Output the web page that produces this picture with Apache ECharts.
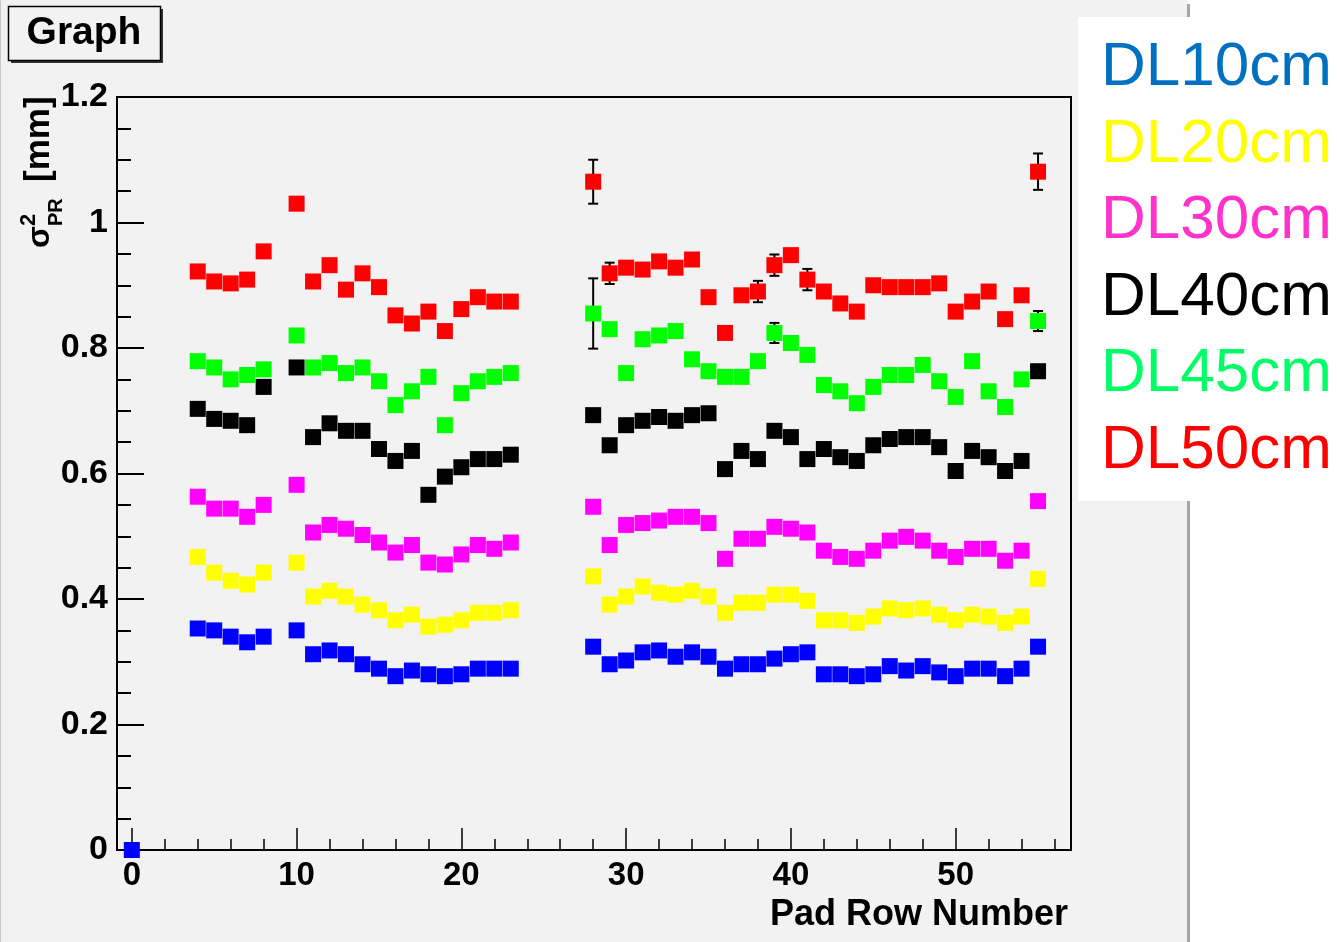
<!DOCTYPE html>
<html>
<head>
<meta charset="utf-8">
<script src="https://cdn.jsdelivr.net/npm/echarts@6/dist/echarts.min.js"></script>
<style>
html,body{margin:0;padding:0;background:#ffffff;}
#chart{width:1337px;height:942px;}
</style>
</head>
<body>
<div id="chart"></div>
<script>
// ---------- data ----------
const padRows = [4,5,6,7,8,10,11,12,13,14,15,16,17,18,19,20,21,22,23,28,
  29,30,31,32,33,34,35,36,37,38,39,40,41,42,43,44,45,46,47,48,49,50,51,52,53,54,55];

const dl10 = [0.353,0.350,0.340,0.331,0.340, 0.350,
  0.312,0.318,0.312,0.296,0.289,0.277,0.286,0.280,0.277,0.280,0.289,0.289,0.289,
  0.324,
  0.296,0.302,0.315,0.318,0.308,0.315,0.308,0.289,0.296,0.296,0.305,0.312,0.315,0.280,0.280,0.277,0.280,0.293,0.286,0.293,0.283,0.277,0.289,0.289,0.277,0.289,0.324];
const dl10Origin = [[0, 0]];

const dl20 = [0.467,0.442,0.429,0.423,0.442, 0.458,
  0.404,0.413,0.404,0.391,0.382,0.366,0.375,0.356,0.359,0.366,0.378,0.378,0.382,
  0.436,
  0.391,0.404,0.420,0.410,0.407,0.413,0.404,0.378,0.394,0.394,0.407,0.407,0.397,0.366,0.366,0.362,0.372,0.385,0.382,0.385,0.375,0.366,0.375,0.372,0.362,0.372,0.432];

const dl30 = [0.563,0.544,0.544,0.531,0.550, 0.582,
  0.506,0.518,0.512,0.502,0.490,0.474,0.486,0.458,0.455,0.471,0.486,0.480,0.490,
  0.547,
  0.486,0.518,0.521,0.525,0.531,0.531,0.521,0.464,0.496,0.496,0.515,0.512,0.506,0.477,0.467,0.464,0.477,0.493,0.499,0.493,0.477,0.467,0.480,0.480,0.461,0.477,0.556];

const dl40 = [0.703,0.687,0.684,0.677,0.738, 0.769,
  0.658,0.680,0.668,0.668,0.639,0.620,0.636,0.566,0.595,0.610,0.623,0.623,0.630,
  0.693,
  0.645,0.677,0.684,0.690,0.684,0.693,0.696,0.607,0.636,0.623,0.668,0.658,0.623,0.639,0.626,0.620,0.645,0.655,0.658,0.658,0.642,0.604,0.636,0.626,0.604,0.620,0.763];

const dl45 = [0.779,0.769,0.750,0.757,0.766, 0.820,
  0.769,0.776,0.760,0.769,0.747,0.709,0.731,0.754,0.677,0.728,0.747,0.754,0.760,
  0.855,
  0.830,0.760,0.814,0.820,0.827,0.782,0.763,0.754,0.754,0.779,0.824,0.808,0.789,0.741,0.731,0.712,0.738,0.757,0.757,0.773,0.747,0.722,0.779,0.731,0.706,0.750,0.843];

const dl50 = [0.922,0.906,0.903,0.909,0.954, 1.030,
  0.906,0.932,0.893,0.919,0.897,0.852,0.839,0.858,0.827,0.862,0.881,0.874,0.874,
  1.065,
  0.919,0.928,0.925,0.938,0.928,0.941,0.881,0.824,0.884,0.890,0.932,0.948,0.909,0.890,0.871,0.858,0.900,0.897,0.897,0.897,0.903,0.858,0.874,0.890,0.846,0.884,1.081];

// visible error bars: [pad row, error]
const dl45Err = [[28,0.056],[39,0.016],[55,0.016]];
const dl50Err = [[28,0.035],[29,0.017],[38,0.017],[39,0.017],[41,0.017],[55,0.029]];

const seriesNames = ['DL10cm','DL20cm','DL30cm','DL40cm','DL45cm','DL50cm'];
const markerColors = ['#0000ff','#ffff00','#ff00ff','#000000','#00ff00','#ff0000'];
const legendColors = ['#0070c0','#ffff00','#ff33cc','#000000','#00ff66','#ff0000'];

const xMajor = [0,10,20,30,40,50];
const xMinor = [2,4,6,8,12,14,16,18,22,24,26,28,32,34,36,38,42,44,46,48,52,54,56];

const titleText = 'Graph';
const xTitle = 'Pad Row Number';

// ---------- build ----------
const FONT = "'Liberation Sans', Arial, Helvetica, sans-serif";
const pairs = (vals) => padRows.map((r, i) => [r, vals[i]]);
const errData = (vals, errs) => errs.map(([r, e]) => [r, vals[padRows.indexOf(r)], e]);

function scatter(name, data, color, z) {
  return {
    type: 'scatter', name: name, data: data, symbol: 'rect', symbolSize: 16,
    itemStyle: { color: color, opacity: 1 }, z: z, silent: true
  };
}
function errSeries(data) {
  return {
    type: 'custom', z: 2, silent: true, data: data,
    renderItem: function (params, api) {
      const x = api.value(0), y = api.value(1), e = api.value(2);
      const t = api.coord([x, y + e]), b = api.coord([x, y - e]);
      const hw = 5, st = { stroke: '#000', lineWidth: 2 };
      return { type: 'group', children: [
        { type: 'line', shape: { x1: t[0], y1: t[1], x2: b[0], y2: b[1] }, style: st },
        { type: 'line', shape: { x1: t[0]-hw, y1: t[1], x2: t[0]+hw, y2: t[1] }, style: st },
        { type: 'line', shape: { x1: b[0]-hw, y1: b[1], x2: b[0]+hw, y2: b[1] }, style: st }
      ]};
    }
  };
}

const vals = [dl10, dl20, dl30, dl40, dl45, dl50];
const series = [];
series.push(errSeries(errData(dl45, dl45Err)));
series.push(errSeries(errData(dl50, dl50Err)));
vals.forEach((v, i) => series.push(scatter(seriesNames[i], pairs(v), markerColors[i], 3 + i)));
series.push(scatter('DL10cm', dl10Origin, markerColors[0], 3));

const legendGraphics = [
  { type: 'rect', shape: { x: 1078, y: 17, width: 259, height: 484 }, style: { fill: '#ffffff' }, z: 20 }
];
seriesNames.forEach((n, i) => {
  legendGraphics.push({
    type: 'text', x: 1101, y: 68 + i * 76.6, z: 21,
    style: { text: n, fill: legendColors[i], font: '62px ' + FONT, align: 'left', verticalAlign: 'middle' }
  });
});

const option = {
  backgroundColor: '#ffffff',
  animation: false,
  grid: { left: 117, right: 266, top: 97, bottom: 92, show: true, borderColor: '#000', borderWidth: 2, backgroundColor: '#f2f2f2', containLabel: false },
  xAxis: [
    { type: 'value', position: 'bottom', min: -0.9, max: 57,
      axisLine: { show: true, onZero: false, lineStyle: { color: '#000', width: 2 } },
      splitLine: { show: false },
      axisTick: { show: true, inside: true, length: 22, customValues: xMajor, lineStyle: { color: '#000', width: 1.5 } },
      axisLabel: { show: true, customValues: xMajor, margin: 9, color: '#000', fontSize: 33, fontWeight: 'bold', fontFamily: FONT } },
    { type: 'value', position: 'bottom', min: -0.9, max: 57,
      axisLine: { show: false, onZero: false },
      splitLine: { show: false },
      axisTick: { show: true, inside: true, length: 11, customValues: xMinor, lineStyle: { color: '#000', width: 1.5 } },
      axisLabel: { show: false } }
  ],
  yAxis: [
    { type: 'value', position: 'left', min: 0, max: 1.2, interval: 0.2,
      axisLine: { show: true, onZero: false, lineStyle: { color: '#000', width: 2 } },
      splitLine: { show: false },
      axisTick: { show: true, inside: true, length: 27, lineStyle: { color: '#000', width: 2 } },
      axisLabel: { show: true, margin: 9, color: '#000', fontSize: 34, fontWeight: 'bold', fontFamily: FONT } },
    { type: 'value', position: 'left', min: 0, max: 1.2, interval: 0.05,
      axisLine: { show: false, onZero: false },
      splitLine: { show: false },
      axisTick: { show: true, inside: true, length: 14, lineStyle: { color: '#000', width: 2 } },
      axisLabel: { show: false } }
  ],
  series: series,
  graphic: [
    // ROOT canvas background and border
    { type: 'rect', shape: { x: 0, y: 0, width: 1188, height: 942 }, style: { fill: '#f2f2f2' }, z: -10 },
    { type: 'line', shape: { x1: 1188.5, y1: 4, x2: 1188.5, y2: 942 }, style: { stroke: '#a6a6a6', lineWidth: 3 }, z: -9 },
    { type: 'line', shape: { x1: 0.5, y1: 0, x2: 0.5, y2: 942 }, style: { stroke: '#c8c8c8', lineWidth: 1 }, z: -9 },
    // title box
    { type: 'rect', shape: { x: 11, y: 9, width: 152, height: 54 }, style: { fill: '#333' }, z: -8 },
    { type: 'rect', shape: { x: 8.5, y: 6.5, width: 152, height: 54 }, style: { fill: '#f2f2f2', stroke: '#000', lineWidth: 1.5 }, z: -7 },
    { type: 'text', x: 84, y: 33, z: -6, style: { text: titleText, fill: '#000', font: 'bold 39px ' + FONT, align: 'center', verticalAlign: 'middle' } },
    // y axis title (rotated)
    { type: 'text', x: 40, y: 248, rotation: Math.PI / 2, z: 5, style: { text: 'σ', fill: '#000', font: 'bold 32px ' + FONT, align: 'left', verticalAlign: 'middle' } },
    { type: 'text', x: 29, y: 226, rotation: Math.PI / 2, z: 5, style: { text: '2', fill: '#000', font: 'bold 22px ' + FONT, align: 'left', verticalAlign: 'middle' } },
    { type: 'text', x: 56, y: 226, rotation: Math.PI / 2, z: 5, style: { text: 'PR', fill: '#000', font: 'bold 20px ' + FONT, align: 'left', verticalAlign: 'middle' } },
    { type: 'text', x: 39, y: 182, rotation: Math.PI / 2, z: 5, style: { text: '[mm]', fill: '#000', font: 'bold 35px ' + FONT, align: 'left', verticalAlign: 'middle' } },
    // x axis title
    { type: 'text', x: 1068, y: 915, z: 5, style: { text: xTitle, fill: '#000', font: 'bold 36px ' + FONT, align: 'right', verticalAlign: 'middle' } }
  ].concat(legendGraphics)
};

const chart = echarts.init(document.getElementById('chart'), null, { renderer: 'canvas' });
chart.setOption(option);
</script>
</body>
</html>
